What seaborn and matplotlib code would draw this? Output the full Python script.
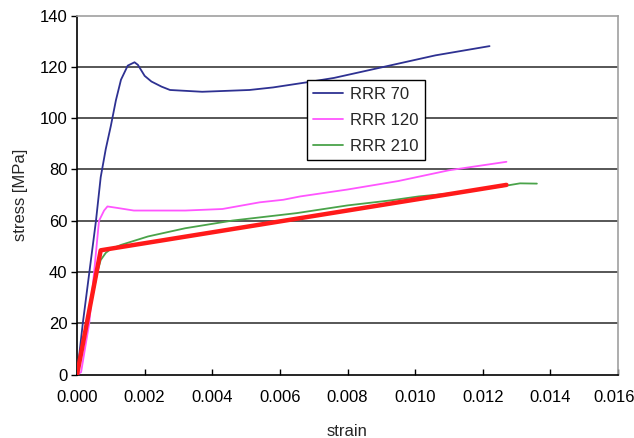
import matplotlib
matplotlib.use("Agg")
import matplotlib.pyplot as plt
import matplotlib.transforms as mtransforms
import seaborn as sns
import pandas as pd

# Stress-strain curves for three RRR grades plus a bilinear fit
rrr70_strain = [0, 0.00017, 0.00056, 0.0007, 0.00085, 0.001, 0.00115, 0.0013, 0.0015,
                0.0017, 0.0018, 0.002, 0.0022, 0.0025, 0.00275, 0.0037, 0.0051, 0.0058,
                0.0068, 0.0076, 0.009, 0.0106, 0.0122]
rrr70_stress = [0, 20, 60, 77, 88, 97, 107, 115, 120.5,
                121.8, 120.8, 116.5, 114.3, 112.3, 111, 110.3, 111, 112,
                114, 115.7, 119.8, 124.5, 128.1]

rrr120_strain = [0, 0.00012, 0.00036, 0.00065, 0.0008, 0.0009, 0.0012, 0.00168, 0.0032,
                 0.0043, 0.0054, 0.0061, 0.0066, 0.0080, 0.0095, 0.011, 0.0127]
rrr120_stress = [0, 1, 20, 60, 64, 65.6, 65, 64, 64,
                 64.6, 67.2, 68.2, 69.5, 72.2, 75.5, 79.7, 83]

rrr210_strain = [0, 0.0003, 0.0006, 0.0007, 0.00085, 0.0010, 0.0013, 0.0021, 0.0032,
                 0.0046, 0.0065, 0.0080, 0.0093, 0.0101, 0.0113, 0.0126, 0.0131, 0.0136]
rrr210_stress = [0, 20, 40, 44.7, 47.5, 49, 50.6, 53.9, 57.1,
                 60.1, 63, 66, 68, 69.5, 71, 73.5, 74.6, 74.5]

fit_strain = [0, 0.0007, 0.0127]
fit_stress = [0, 48.5, 74]

series_names = ["RRR 70", "RRR 120", "RRR 210"]
series_colors = ["#2e3192", "#ff55ff", "#4aa34a"]

sns.set_style("white")
plt.rcParams["font.family"] = ["Liberation Sans", "DejaVu Sans"]
plt.rcParams["font.size"] = 12

fig = plt.figure(figsize=(6.34, 4.38), dpi=100)
ax = fig.add_axes([0.1215, 0.1445, 0.9748 - 0.1215, 0.9644 - 0.1445])

curves = [(rrr70_strain, rrr70_stress), (rrr120_strain, rrr120_stress),
          (rrr210_strain, rrr210_stress)]
for name, color, (sx, sy) in zip(series_names, series_colors, curves):
    df = pd.DataFrame({"strain": sx, "stress": sy})
    sns.lineplot(data=df, x="strain", y="stress", ax=ax, color=color, lw=1.3,
                 sort=False, estimator=None, label=name, zorder=3)

fit_df = pd.DataFrame({"strain": fit_strain, "stress": fit_stress})
sns.lineplot(data=fit_df, x="strain", y="stress", ax=ax, color="#ff1a1a", lw=3.2,
             sort=False, estimator=None, zorder=4, legend=False)

ax.set_xlim(0, 0.016)
ax.set_ylim(0, 140)
ax.set_xticks([i * 0.002 for i in range(9)])
ax.set_xticklabels([f"{i * 0.002:.3f}" for i in range(9)])
ax.set_yticks(range(0, 141, 20))

for v in range(20, 140, 20):
    ax.axhline(v, color="#3a3a3a", lw=1.2, zorder=1)

ax.tick_params(axis="x", direction="in", length=4, width=1, colors="black",
               labelsize=12, pad=11)
ax.tick_params(axis="y", direction="out", length=4, width=1, colors="black",
               labelsize=12, pad=3)
ax.xaxis.set_ticks_position("bottom")
ax.yaxis.set_ticks_position("left")
# nudge the last tick label a little left so it stays on the canvas
last = ax.get_xticklabels()[-1]
last.set_transform(last.get_transform() +
                   mtransforms.ScaledTranslation(-4 / 100, 0, fig.dpi_scale_trans))

for side in ["left", "bottom"]:
    ax.spines[side].set_color("black")
    ax.spines[side].set_linewidth(1.2)
for side in ["top", "right"]:
    ax.spines[side].set_color("#a0a0a0")
    ax.spines[side].set_linewidth(1.2)

ax.set_xlabel("strain", fontsize=12, labelpad=14)
ax.set_ylabel("stress [MPa]", fontsize=12, labelpad=8)

leg = ax.legend(loc="upper left", bbox_to_anchor=(0.4246, 0.821), borderaxespad=0,
                frameon=True, fancybox=False, fontsize=12, handlelength=1.8,
                handletextpad=0.4, labelspacing=0.66, borderpad=0.4)
leg.get_frame().set_edgecolor("black")
leg.get_frame().set_linewidth(1.0)
leg.get_frame().set_alpha(1)
leg.set_zorder(5)

fig.savefig("out.png", dpi=100)
